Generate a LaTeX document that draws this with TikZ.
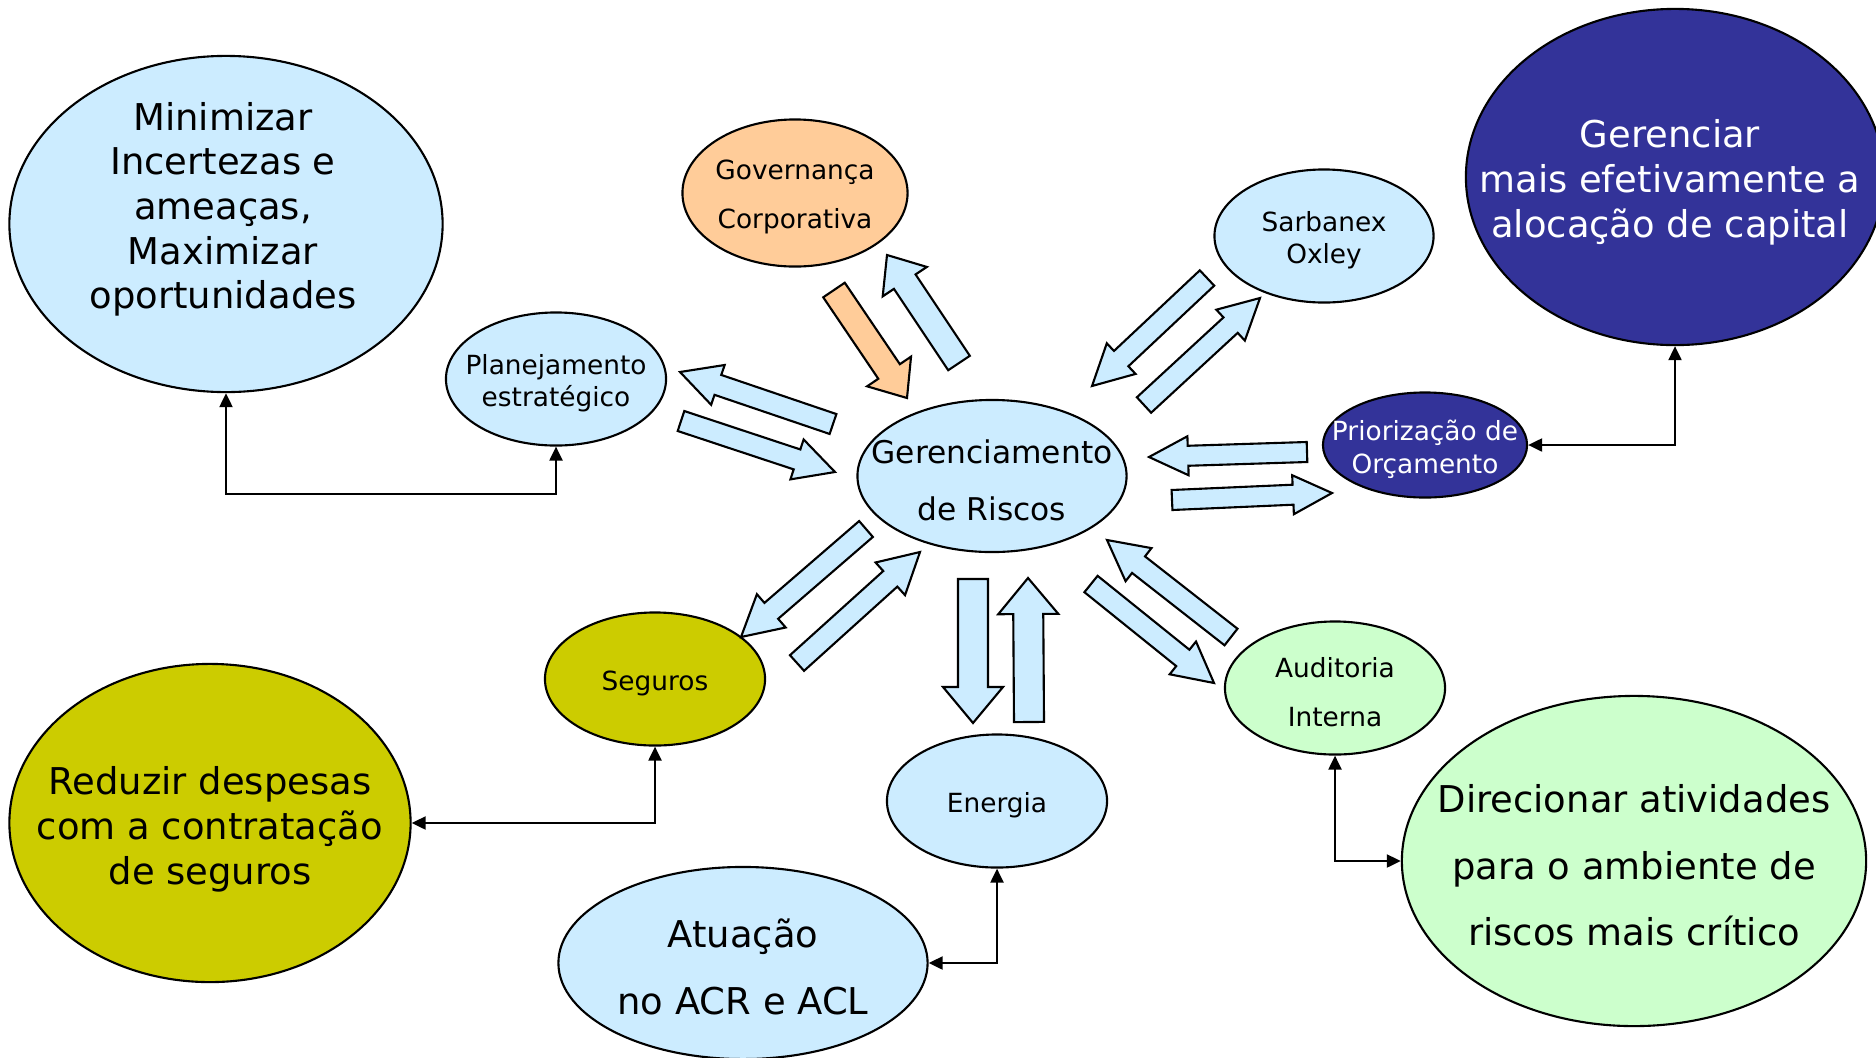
\documentclass[tikz,border=0pt]{standalone}
\usepackage{fontspec}
\setmainfont{DejaVu Sans}
\usetikzlibrary{calc,shapes.geometric,arrows.meta}

\definecolor{lblue}{RGB}{204,236,255}
\definecolor{lorange}{RGB}{255,204,153}
\definecolor{dblue}{RGB}{51,51,153}
\definecolor{olive}{RGB}{204,204,0}
\definecolor{lgreen}{RGB}{204,255,204}

% block arrow: tail, tip, half shaft, half head, head length, fill
\newcommand{\blockarrow}[6]{%
  \coordinate (ba-t) at #1;
  \coordinate (ba-p) at #2;
  \coordinate (ba-h) at ($(ba-p)!#5!(ba-t)$);
  \draw[barrow, fill=#6] ($(ba-t)!#3!90:(ba-p)$) -- ($(ba-h)!#3!90:(ba-p)$)
    -- ($(ba-h)!#4!90:(ba-p)$) -- (ba-p) -- ($(ba-h)!#4!-90:(ba-p)$)
    -- ($(ba-h)!#3!-90:(ba-p)$) -- ($(ba-t)!#3!-90:(ba-p)$) -- cycle;}

\begin{document}
\begin{tikzpicture}[x=0.01cm, y=-0.01cm,
  ell/.style={ellipse, draw, semithick, inner sep=0pt},
  txt/.style={inner sep=0pt, align=center, yshift=-1.2pt},
  bigtxt/.style={txt, font=\fontsize{10.5}{12.7}\selectfont},
  widetxt/.style={txt, font=\fontsize{10.5}{19}\selectfont},
  midtxt/.style={txt, font=\fontsize{8.9}{16.4}\selectfont},
  smalltxt/.style={txt, font=\fontsize{7.5}{9.2}\selectfont},
  loosetxt/.style={txt, font=\fontsize{7.5}{14}\selectfont},
  barrow/.style={semithick, line join=miter},
  link/.style={semithick, >={Triangle[length=1.4mm,width=1.3mm]}, <->}]

\useasboundingbox (0,0) rectangle (1876,1057);

%ellipses
\node[ell, fill=lblue,   minimum width=4.33cm, minimum height=3.36cm] (min)  at (226,224)  {};
\node[ell, fill=lorange, minimum width=2.25cm, minimum height=1.47cm] (gov)  at (795,193)  {};
\node[ell, fill=lblue,   minimum width=2.19cm, minimum height=1.33cm] (sox)  at (1324,236) {};
\node[ell, fill=dblue,   minimum width=4.18cm, minimum height=3.36cm] (cap)  at (1675,177) {};
\node[ell, fill=lblue,   minimum width=2.20cm, minimum height=1.33cm] (plan) at (556,379)  {};
\node[ell, fill=lblue,   minimum width=2.69cm, minimum height=1.52cm] (risk) at (992,476)  {};
\node[ell, fill=dblue,   minimum width=2.04cm, minimum height=1.05cm] (prio) at (1425,445) {};
\node[ell, fill=olive,   minimum width=2.20cm, minimum height=1.33cm] (seg)  at (655,679)  {};
\node[ell, fill=olive,   minimum width=4.01cm, minimum height=3.18cm] (red)  at (210,823)  {};
\node[ell, fill=lblue,   minimum width=2.20cm, minimum height=1.33cm] (ene)  at (997,801)  {};
\node[ell, fill=lblue,   minimum width=3.69cm, minimum height=1.92cm] (atu)  at (743,963)  {};
\node[ell, fill=lgreen,  minimum width=2.20cm, minimum height=1.33cm] (aud)  at (1335,688) {};
\node[ell, fill=lgreen,  minimum width=4.64cm, minimum height=3.30cm] (dir)  at (1634,861) {};

%labels
\node[bigtxt] (min-t) at ($(min)+(-3,-19)$) {Minimizar\\Incertezas e\\ameaças,\\Maximizar\\oportunidades};
\node[loosetxt] (gov-t) at (gov) {Governança\\Corporativa};
\node[smalltxt] (sox-t) at (sox) {Sarbanex\\Oxley};
\node[bigtxt, text=white] (cap-t) at ($(cap)+(-5,1)$) {Gerenciar\\mais efetivamente a\\alocação de capital};
\node[smalltxt] (plan-t) at (plan) {Planejamento\\estratégico};
\node[midtxt] (risk-t) at (risk) {Gerenciamento\\de Riscos};
\node[smalltxt, text=white] (prio-t) at (prio) {Priorização de\\Orçamento};
\node[smalltxt] (seg-t) at (seg) {Seguros};
\node[bigtxt] (red-t) at ($(red)+(0,2)$) {Reduzir despesas\\com a contratação\\de seguros};
\node[smalltxt] (ene-t) at (ene) {Energia};
\node[widetxt] (atu-t) at (atu) {Atuação\\no ACR e ACL};
\node[loosetxt] (aud-t) at (aud) {Auditoria\\Interna};
\node[widetxt] (dir-t) at (dir) {Direcionar atividades\\para o ambiente de\\riscos mais crítico};

%connectors
\coordinate (plan-low) at ($(plan.south)+(0,47)$);
\draw[link] (min.south) |- (plan-low) -- (plan.south);
\draw[link] (cap.south) |- (prio.east);
\draw[link] (seg.south) |- (red.east);
\draw[link] (ene.south) |- (atu.east);
\draw[link] (aud.south) |- (dir.west);

%block arrows
\blockarrow{(834,290)}{(907,398)}{1.3mm}{2.65mm}{3.2mm}{lorange}   %gov->risk
\blockarrow{(959,363)}{(887,255)}{1.3mm}{2.65mm}{3.2mm}{lblue}     %risk->gov
\blockarrow{(833,424)}{(680,372)}{1.05mm}{2.1mm}{4mm}{lblue}       %risk->plan
\blockarrow{(681,421)}{(835,472)}{1.05mm}{2.1mm}{4mm}{lblue}       %plan->risk
\blockarrow{(1207,278)}{(1092,386)}{1.05mm}{2.1mm}{4mm}{lblue}     %sox->risk
\blockarrow{(1144,405)}{(1260,298)}{1.05mm}{2.1mm}{4mm}{lblue}     %risk->sox
\blockarrow{(1307,452)}{(1149,457)}{1mm}{1.95mm}{3.9mm}{lblue}     %prio->risk
\blockarrow{(1172,500)}{(1332,493)}{1mm}{1.95mm}{3.9mm}{lblue}     %risk->prio
\blockarrow{(866,529)}{(741,637)}{1.05mm}{2.2mm}{4mm}{lblue}       %risk->seg
\blockarrow{(797,663)}{(920,552)}{1.05mm}{2.2mm}{4mm}{lblue}       %seg->risk
\blockarrow{(973,579)}{(973,723)}{1.5mm}{3mm}{3.6mm}{lblue}        %risk->ene
\blockarrow{(1029,722)}{(1028,578)}{1.5mm}{3mm}{3.6mm}{lblue}      %ene->risk
\blockarrow{(1231,637)}{(1107,540)}{1.05mm}{2.1mm}{4mm}{lblue}     %aud->risk
\blockarrow{(1091,584)}{(1214,683)}{1.05mm}{2.1mm}{4mm}{lblue}     %risk->aud

\end{tikzpicture}
\end{document}
